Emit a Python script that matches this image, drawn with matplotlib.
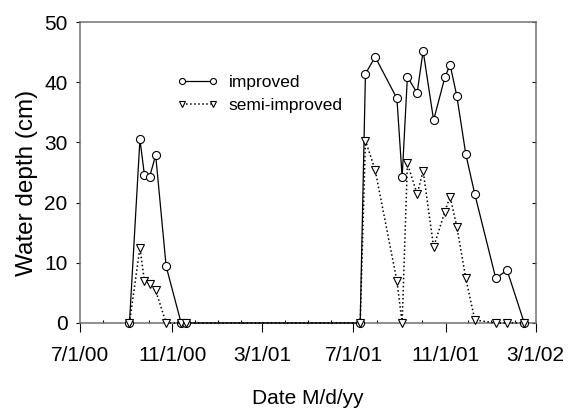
import datetime as dt

import matplotlib
matplotlib.use('Agg')
import matplotlib.pyplot as plt
import matplotlib.dates as mdates
from matplotlib.ticker import FuncFormatter, MultipleLocator

plt.rcParams['font.family'] = ['Liberation Sans', 'DejaVu Sans']

# sampling dates
dates = ['2000-09-05', '2000-09-19', '2000-09-25', '2000-10-02', '2000-10-10',
         '2000-10-24', '2000-11-13', '2000-11-19',
         '2001-07-10', '2001-07-17', '2001-07-30', '2001-08-28', '2001-09-04',
         '2001-09-11', '2001-09-24', '2001-10-02', '2001-10-16', '2001-10-31',
         '2001-11-07', '2001-11-16', '2001-11-28', '2001-12-10', '2002-01-07',
         '2002-01-22', '2002-02-14']
improved = [0, 30.5, 24.6, 24.3, 27.9, 9.4, 0, 0,
            0, 41.4, 44.2, 37.3, 24.2, 40.9, 38.2, 45.2, 33.7, 40.8,
            42.9, 37.7, 28.0, 21.4, 7.4, 8.8, 0]
semi_improved = [0, 12.5, 7.0, 6.5, 5.4, 0, 0, 0,
                 0, 30.3, 25.4, 7.0, 0, 26.5, 21.4, 25.3, 12.6, 18.5,
                 21.0, 16.0, 7.4, 0.5, 0, 0, 0]

x = [dt.datetime.strptime(d, '%Y-%m-%d') for d in dates]

fig = plt.figure(figsize=(5.7, 4.13), dpi=100)
ax = fig.add_axes([80/570, 1-323/413, 455.5/570, 301/413])

ax.plot(x, improved, 'k-', lw=0.9, marker='o', ms=5.8, mfc='white',
        mec='black', mew=0.8, clip_on=False, zorder=3, label='improved')
ax.plot(x, semi_improved, 'k:', lw=1.1, marker='v', ms=5.8, mfc='white',
        mec='black', mew=0.8, clip_on=False, zorder=3, label='semi-improved')

ax.set_xlim(dt.datetime(2000, 7, 1), dt.datetime(2002, 3, 1))
ax.set_ylim(0, 50)

def fmt_date(v, pos):
    d = mdates.num2date(v)
    return '%d/%d/%02d' % (d.month, d.day, d.year % 100)

ax.xaxis.set_major_locator(mdates.MonthLocator(bymonth=[3, 7, 11]))
ax.xaxis.set_minor_locator(mdates.MonthLocator())
ax.xaxis.set_major_formatter(FuncFormatter(fmt_date))
ax.yaxis.set_major_locator(MultipleLocator(10))

for s in ax.spines.values():
    s.set_color('#707070')
    s.set_linewidth(1.1)

ax.tick_params(axis='x', which='major', direction='out', length=6.5, width=0.8,
               labelsize=15, pad=10)
ax.tick_params(axis='x', which='minor', direction='in', length=2.5, width=0.8)
ax.tick_params(axis='y', which='major', length=3, width=0.8,
               labelsize=15, pad=6, left=True, right=True)
# left ticks outward, right ticks inward
for t in ax.yaxis.get_major_ticks():
    t.tick1line.set_marker(matplotlib.lines.TICKLEFT)
    t.tick2line.set_marker(matplotlib.lines.TICKLEFT)

ax.set_xlabel('Date M/d/yy', fontsize=15)
ax.set_ylabel('Water depth (cm)', fontsize=17.5)
ax.xaxis.set_label_coords(0.5, -0.22)
ax.yaxis.set_label_coords(-0.092, 0.465)

ax.legend(loc='upper left', bbox_to_anchor=(0.212, 0.824), frameon=False,
          fontsize=12.5, numpoints=2, markerscale=0.75, handlelength=2.4,
          handletextpad=0.6, labelspacing=0.45, borderpad=0, borderaxespad=0)

fig.savefig('out.png', dpi=100)
